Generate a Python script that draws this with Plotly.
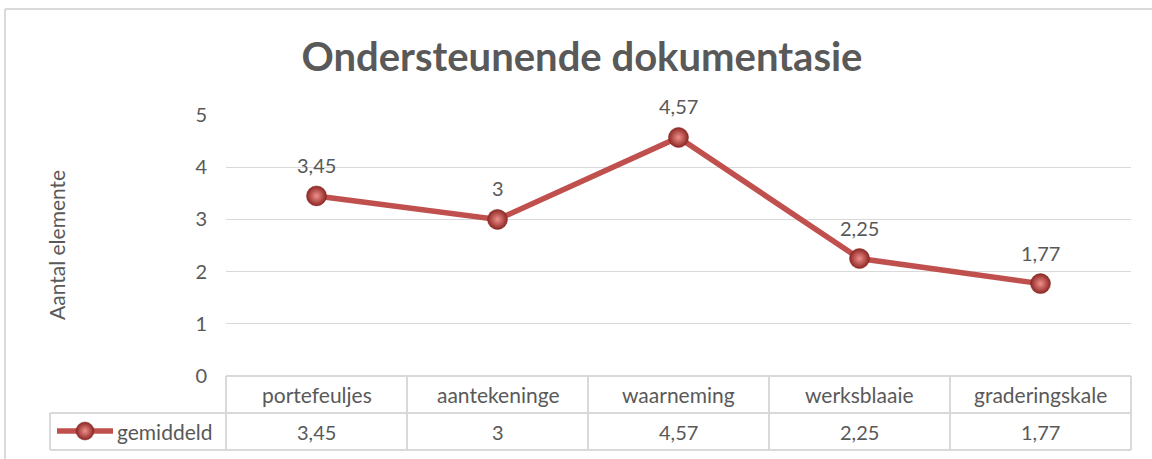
import plotly.graph_objects as go

categories = ["portefeuljes", "aantekeninge", "waarneming", "werksblaaie", "graderingskale"]
values = [3.45, 3, 4.57, 2.25, 1.77]
series_name = "gemiddeld"
title_text = "Ondersteunende dokumentasie"
y_title = "Aantal elemente"
y_ticks = [0, 1, 2, 3, 4, 5]

W, H = 1152, 459
L, R, T, B = 226, 1131, 115, 376  # plot area in pixels
FONT = "Lato"
TXT = "#595959"
GRID = "#D9D9D9"
RED = "#C0504D"
MARK_EDGE = "#8E2724"
MARK_HI = "#F0908C"


def fmt(v):
    return f"{v:g}".replace(".", ",")


def px(xp):
    return xp / W


def py(yp):
    return 1 - yp / H


n = len(categories)
fig = go.Figure()
fig.add_trace(go.Scatter(
    x=categories, y=values, mode="lines+markers", name=series_name,
    line=dict(color=RED, width=5.5),
    marker=dict(size=20, color=MARK_EDGE,
                gradient=dict(type="radial", color=MARK_HI),
                line=dict(color="#7E2220", width=0.5)),
    showlegend=False, cliponaxis=False,
))

# legend key (small subplot in the table's legend cell)
fig.add_trace(go.Scatter(
    x=[0, 1], y=[0, 0], xaxis="x2", yaxis="y2", mode="lines",
    line=dict(color=RED, width=5.5), showlegend=False, hoverinfo="skip", cliponaxis=False,
))
fig.add_trace(go.Scatter(
    x=[0.5], y=[0], xaxis="x2", yaxis="y2", mode="markers",
    marker=dict(size=18, color=MARK_EDGE,
                gradient=dict(type="radial", color=MARK_HI),
                line=dict(color="#7E2220", width=0.5)),
    showlegend=False, hoverinfo="skip", cliponaxis=False,
))

annotations = []
NUM = 20
WORD = 21
# data labels
for c, v in zip(categories, values):
    annotations.append(dict(x=c, y=v, xref="x", yref="y", text=fmt(v), showarrow=False,
                            xanchor="center", yanchor="middle",
                            yshift=31, font=dict(family=FONT, size=NUM, color=TXT)))

# table texts
row1_y = py((376 + 413) / 2)
row2_y = py((413 + 450) / 2)
for c, v in zip(categories, values):
    annotations.append(dict(x=c, y=row1_y, xref="x", yref="paper", text=c, showarrow=False,
                            xanchor="center", yanchor="middle",
                            font=dict(family=FONT, size=WORD, color=TXT)))
    annotations.append(dict(x=c, y=row2_y, xref="x", yref="paper", text=fmt(v), showarrow=False,
                            xanchor="center", yanchor="middle",
                            font=dict(family=FONT, size=NUM, color=TXT)))
# legend key text
annotations.append(dict(x=px(115), y=row2_y, xref="paper", yref="paper", text=series_name,
                        showarrow=False, xanchor="left", yanchor="middle",
                        font=dict(family=FONT, size=WORD, color=TXT)))
# y axis title
annotations.append(dict(x=px(57), y=py(245), xref="paper", yref="paper", text=y_title,
                        showarrow=False, textangle=-90, xanchor="center", yanchor="middle",
                        font=dict(family=FONT, size=21, color=TXT)))

shapes = []


def line(x0, y0, x1, y1, color=GRID, width=2):
    shapes.append(dict(type="line", xref="paper", yref="paper",
                       x0=px(x0), y0=py(y0), x1=px(x1), y1=py(y1),
                       line=dict(color=color, width=width), layer="below"))


# outer chart border (top and left visible)
line(5, 9, 1152, 9)
line(5, 9, 5, 459)
# table
line(L, 376, R, 376)
line(50, 413, R, 413)
line(50, 450, R, 450)
line(50, 413, 50, 450)
for i in range(n + 1):
    xx = L + i * (R - L) / n
    line(xx, 376, xx, 450)

fig.update_layout(
    width=W, height=H, autosize=False,
    margin=dict(l=0, r=0, t=0, b=0, pad=0, autoexpand=False),
    paper_bgcolor="white", plot_bgcolor="white",
    separators=",.",
    title=dict(text=f"<b>{title_text}</b>", x=582 / W, xanchor="center",
               y=1 - 57 / H, yanchor="middle",
               font=dict(family=FONT, size=40, color=TXT)),
    xaxis=dict(domain=[px(L), px(R)], showticklabels=False, showgrid=False, zeroline=False,
               showline=False, range=[-0.5, n - 0.5], fixedrange=True, automargin=False),
    yaxis=dict(domain=[py(B), py(T)], range=[0, 5], tickvals=y_ticks, showgrid=True,
               gridcolor=GRID, gridwidth=1.3,
               zeroline=False, showline=False, ticks="", ticklabelstandoff=18,
               tickfont=dict(family=FONT, size=NUM, color=TXT), fixedrange=True,
               automargin=False),
    xaxis2=dict(domain=[px(57), px(113)], range=[0, 1], visible=False, fixedrange=True,
                anchor="y2", automargin=False),
    yaxis2=dict(domain=[py(440), py(422)], range=[-1, 1], visible=False, fixedrange=True,
                anchor="x2", automargin=False),
    annotations=annotations,
    shapes=shapes,
    font=dict(family=FONT, color=TXT),
)

fig.write_html("out.html", post_script="document.body.style.margin='0';",
               config={"displayModeBar": False})
